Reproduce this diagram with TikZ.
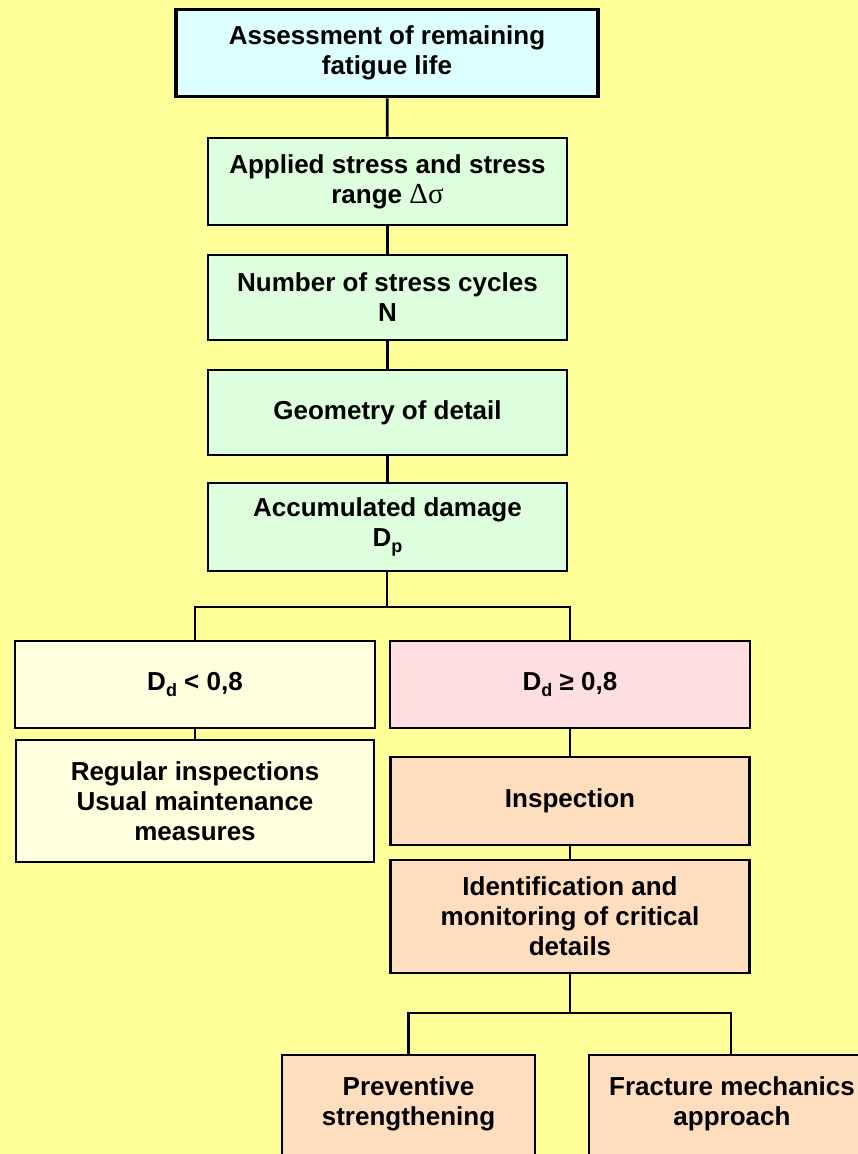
\documentclass[tikz,border=0pt]{standalone}
\usepackage{fontspec}
\setmainfont{Liberation Sans}
\newfontfamily\greekfont{Liberation Serif}
\definecolor{bgyellow}{RGB}{255,255,153}
\definecolor{topcyan}{RGB}{221,255,255}
\definecolor{stepgreen}{RGB}{221,255,221}
\definecolor{lowyellow}{RGB}{255,255,224}
\definecolor{highpink}{RGB}{255,222,226}
\definecolor{actpeach}{RGB}{255,222,192}
% lowered index in the box texts
\newcommand\lowidx[1]{\raisebox{-0.4ex}{\fontsize{18}{18}\selectfont #1}}
\begin{document}
\begin{tikzpicture}[x=1pt,y=-1pt,
  box/.style={draw=black, line width=2.7pt, align=center, inner sep=0pt,
    font=\bfseries\fontsize{26}{30}\selectfont},
  txt/.style={align=center, inner sep=0pt, font=\bfseries\fontsize{26}{30}\selectfont},
  conn/.style={draw=black, line width=2.7pt},
  thin/.style={draw=black, line width=1.2pt}]
\useasboundingbox (0,0) rectangle (858,1154);
\clip (0,0) rectangle (858,1154);
\fill[bgyellow] (0,0) rectangle (858,1154);

% main chain
\node[box, line width=3.8pt, fill=topcyan, minimum width=422, minimum height=87] (top) at (387,53)
  {Assessment of remaining\\fatigue life};
\node[box, fill=stepgreen, minimum width=359, minimum height=87] (stress) at (387.5,181.5)
  {Applied stress and stress\\range {\mdseries\greekfont\fontsize{29}{30}\selectfont Δσ}};
\node[box, fill=stepgreen, minimum width=359, minimum height=85] (cycles) at (387.5,297.5)
  {Number of stress cycles\\N};
\node[box, fill=stepgreen, minimum width=359, minimum height=85] (geom) at (387.5,412.5)
  {Geometry of detail};
\node[box, fill=stepgreen, minimum width=359, minimum height=88] (damage) at (387.5,527)
  {Accumulated damage\\D\lowidx{p}};

% decision boxes
\node[box, fill=lowyellow, minimum width=360, minimum height=87] (dlow) at (195,684.5)
  {D\lowidx{d} < 0,8};
\node[box, fill=highpink, minimum width=360, minimum height=87] (dhigh) at (570,684.5)
  {D\lowidx{d} ≥ 0,8};

% consequences
\node[box, fill=lowyellow, minimum width=358, minimum height=122] (regular) at (195,801)
  {Regular inspections\\Usual maintenance\\measures};
\node[box, fill=actpeach, minimum width=359, minimum height=88] (insp) at (570,801)
  {Inspection};
\node[box, fill=actpeach, minimum width=359, minimum height=113] (ident) at (570,916.5)
  {Identification and\\monitoring of critical\\details};
\node[box, fill=actpeach, minimum width=253, minimum height=140] (prev) at (408.5,1125) {};
\node[txt] (prevtext) at (408.5,1104) {Preventive\\strengthening};
\node[box, fill=actpeach, minimum width=284, minimum height=140] (frac) at (731,1125) {};
\node[txt] (fractext) at (732,1104) {Fracture mechanics\\approach};

% connectors
\coordinate (split1) at (387,607);
\coordinate (split2) at (570,1013);
\draw[conn] (top) -- (stress);
\draw[conn] (stress) -- (cycles);
\draw[conn] (cycles) -- (geom);
\draw[conn] (geom) -- (damage);
\draw[conn] (damage.south -| split1) -- (split1);
\draw[conn] (dlow.north) |- (split1) -| (dhigh.north);
\draw[thin] (dlow) -- (regular);
\draw[thin] (dhigh) -- (insp);
\draw[thin] (insp) -- (ident);
\draw[conn] (ident.south) -- (split2);
\draw[conn] (prev.north) |- (split2) -| (frac.north);
\end{tikzpicture}
\end{document}
